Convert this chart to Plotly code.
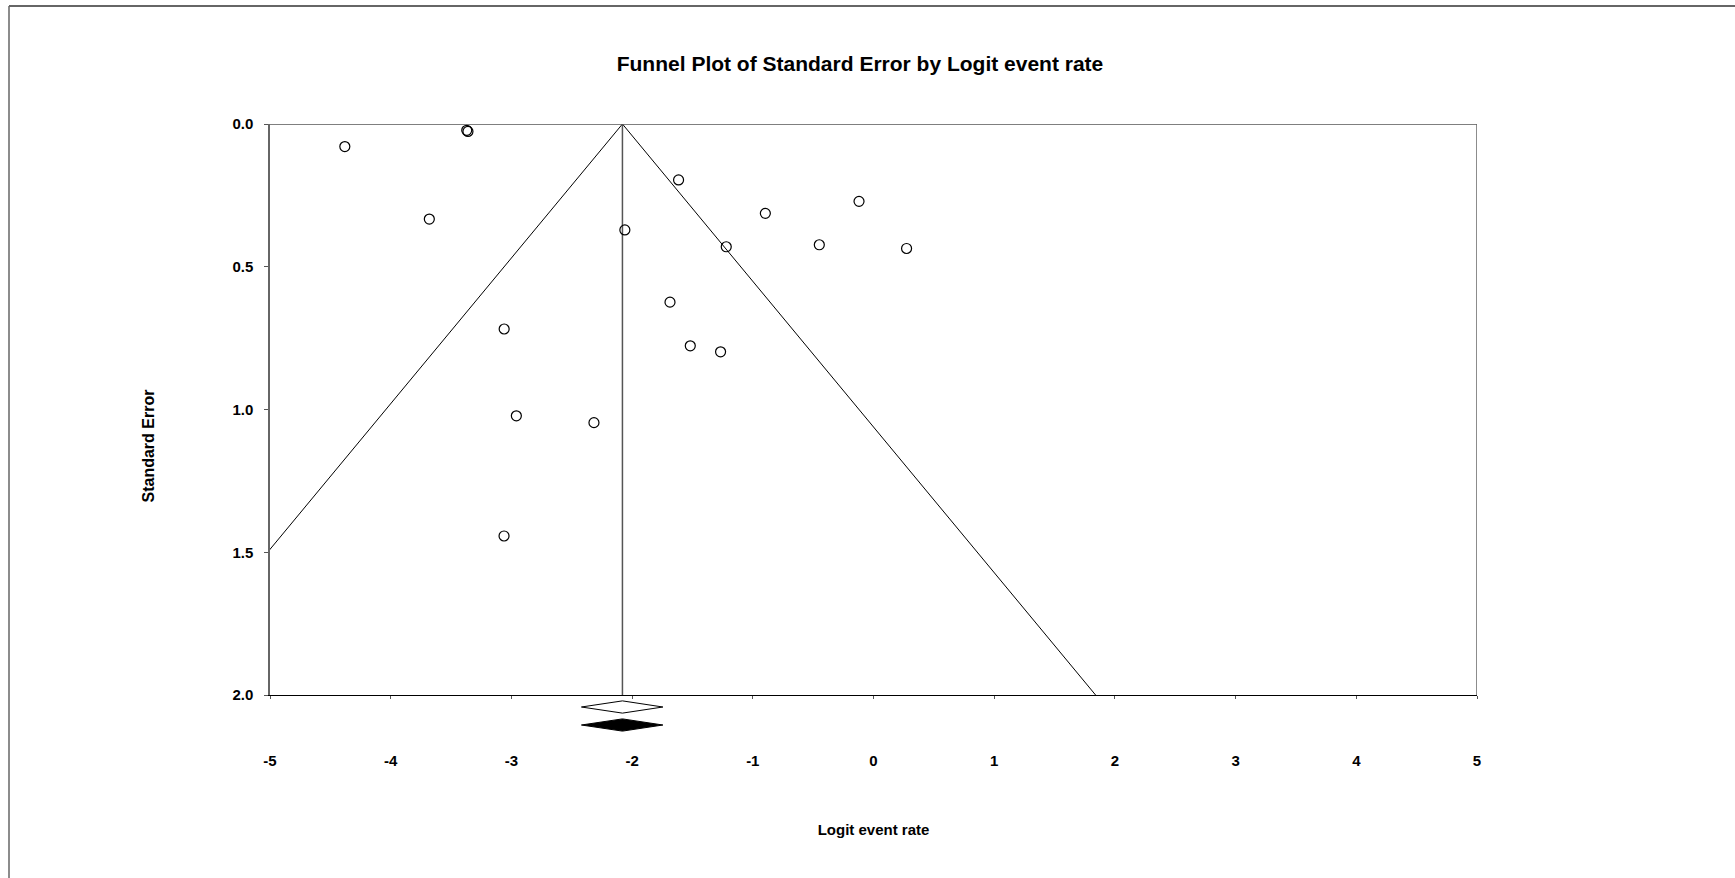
import plotly.graph_objects as go

# ---- data ----
logit_event_rate = [-4.38, -3.37, -3.36, -3.68, -2.06, -1.615, -1.22, -3.06, -1.686,
                    -1.518, -1.267, -0.896, -0.12, -0.449, 0.274, -2.959, -2.316, -3.061]
standard_error = [0.079, 0.022, 0.026, 0.333, 0.371, 0.196, 0.430, 0.718, 0.624,
                  0.777, 0.798, 0.313, 0.271, 0.423, 0.436, 1.022, 1.046, 1.443]

summary_point = -2.08
summary_lower = -2.42
summary_upper = -1.745
z_crit = 1.96
se_max = 2.0

x_ticks = [-5, -4, -3, -2, -1, 0, 1, 2, 3, 4, 5]
y_ticks = [0.0, 0.5, 1.0, 1.5, 2.0]

FONT = "Liberation Sans, Arial, sans-serif"

fig = go.Figure()

# funnel (pseudo 95% limits)
fig.add_trace(go.Scatter(
    x=[summary_point - z_crit * se_max, summary_point, summary_point + z_crit * se_max],
    y=[se_max, 0, se_max],
    mode="lines", line=dict(color="black", width=1), hoverinfo="skip", showlegend=False))

# vertical line at summary estimate
fig.add_trace(go.Scatter(
    x=[summary_point, summary_point], y=[0, se_max],
    mode="lines", line=dict(color="#555555", width=1.5), hoverinfo="skip", showlegend=False))

# studies
fig.add_trace(go.Scatter(
    x=logit_event_rate, y=standard_error, mode="markers",
    marker=dict(symbol="circle-open", size=10, color="black", line=dict(width=1.2)),
    showlegend=False))

# summary diamonds (observed = open, adjusted = filled)
h = 0.34
for row, fillc in [(0, "white"), (1, "black")]:
    fig.add_trace(go.Scatter(
        x=[summary_lower, summary_point, summary_upper, summary_point, summary_lower],
        y=[row, row - h, row, row + h, row],
        xaxis="x", yaxis="y2", mode="lines", fill="toself", fillcolor=fillc,
        line=dict(color="black", width=1), hoverinfo="skip", showlegend=False))

# layout geometry
W, H = 1735, 878
ml, mr, mt, mb = 270, 258, 124, 140
pw = W - ml - mr
ph = H - mt - mb
main_bottom = (H - mb - 695) / ph
y2_top = (H - mb - 698) / ph
y2_bot = (H - mb - 734) / ph

tickfont = dict(family=FONT, size=15, color="black", weight="bold")
titlefont = dict(family=FONT, size=15, color="black", weight="bold")

fig.update_layout(
    width=W, height=H,
    margin=dict(l=ml, r=mr, t=mt, b=mb),
    paper_bgcolor="white", plot_bgcolor="white",
    title=dict(text="Funnel Plot of Standard Error by Logit event rate",
               font=dict(family=FONT, size=21, color="black", weight="bold"),
               x=860 / W, xanchor="center", y=1 - 64 / H, yanchor="middle"),
    xaxis=dict(range=[-5, 5], tickvals=x_ticks, ticktext=[str(v) for v in x_ticks],
               showgrid=False, zeroline=False, showline=True, linecolor="black", linewidth=1.2,
               ticks="outside", ticklen=3, tickcolor="#555555", tickwidth=1,
               tickfont=tickfont, ticklabelstandoff=49, anchor="y",
               title=dict(text="Logit event rate", standoff=56, font=titlefont),
               mirror=False),
    xaxis2=dict(range=[-5, 5], tickvals=x_ticks, overlaying="x", anchor="y", side="bottom",
                showgrid=False, zeroline=False, showline=False, showticklabels=False,
                ticks="inside", ticklen=3, tickcolor="#555555", tickwidth=1),
    yaxis=dict(range=[2, 0], domain=[main_bottom, 1], tickvals=y_ticks,
               tickformat=".1f", showgrid=False, zeroline=False,
               showline=True, linecolor="#666666", linewidth=1.5,
               ticks="outside", ticklen=4, tickcolor="#555555", tickwidth=1,
               tickfont=tickfont, ticklabelstandoff=8),
    yaxis2=dict(range=[1.5, -0.5], domain=[y2_bot, y2_top], anchor="x",
                showgrid=False, zeroline=False, showline=False,
                showticklabels=False, ticks=""),
    annotations=[
        dict(text="Standard Error", textangle=-90, showarrow=False,
             xref="paper", yref="paper",
             x=(147.5 - ml) / pw, y=(H - mb - 446) / ph,
             xanchor="center", yanchor="middle",
             font=dict(family=FONT, size=16, color="black", weight="bold")),
    ],
    shapes=[
        # plot frame top and right
        dict(type="line", xref="paper", yref="y", x0=0, x1=1, y0=0, y1=0,
             line=dict(color="#555555", width=1.5)),
        dict(type="line", xref="x", yref="y", x0=5, x1=5, y0=0, y1=2,
             line=dict(color="#666666", width=1.5)),
        # outer border (top and left)
        dict(type="line", xref="paper", yref="paper",
             x0=(9 - ml) / pw, x1=(W - ml) / pw,
             y0=(H - mb - 6) / ph, y1=(H - mb - 6) / ph,
             line=dict(color="#333333", width=1.5)),
        dict(type="line", xref="paper", yref="paper",
             x0=(9 - ml) / pw, x1=(9 - ml) / pw,
             y0=(H - mb - 6) / ph, y1=(H - mb - H) / ph,
             line=dict(color="#666666", width=1.5)),
    ],
)

fig.write_html("out.html", config={"displayModeBar": False},
               post_script="document.body.style.margin='0px';document.body.style.overflow='hidden';")
